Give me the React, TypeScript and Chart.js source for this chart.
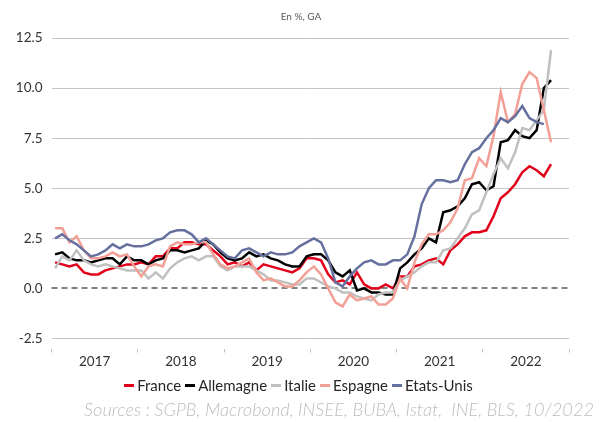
import React, { useEffect, useRef } from "react";
import { Chart, registerables } from "chart.js";

Chart.register(...registerables);

// ---- Data (year-on-year inflation, %, monthly from Jan 2017) ----
const YEARS = ["2017", "2018", "2019", "2020", "2021", "2022"];
const Y_TICK_MIN = -2.5;
const Y_TICK_MAX = 12.5;
const Y_TICK_STEP = 2.5;

const france = [
  1.3, 1.2, 1.1, 1.2, 0.8, 0.7, 0.7, 0.9, 1.0, 1.1, 1.2, 1.2,
  1.3, 1.2, 1.6, 1.6, 2.0, 2.0, 2.3, 2.3, 2.2, 2.2, 1.9, 1.6,
  1.2, 1.3, 1.1, 1.3, 0.9, 1.2, 1.1, 1.0, 0.9, 0.8, 1.0, 1.5,
  1.5, 1.4, 0.7, 0.3, 0.4, 0.2, 0.8, 0.2, 0.0, 0.0, 0.2, 0.0,
  0.6, 0.6, 1.1, 1.2, 1.4, 1.5, 1.2, 1.9, 2.2, 2.6, 2.8, 2.8,
  2.9, 3.6, 4.5, 4.8, 5.2, 5.8, 6.1, 5.9, 5.6, 6.2,
];

const allemagne = [
  1.7, 1.8, 1.5, 1.4, 1.4, 1.3, 1.4, 1.5, 1.5, 1.2, 1.6, 1.4,
  1.4, 1.2, 1.4, 1.5, 1.9, 1.9, 1.8, 1.9, 2.0, 2.4, 2.2, 1.8,
  1.5, 1.4, 1.5, 1.8, 1.6, 1.7, 1.5, 1.4, 1.2, 1.1, 1.1, 1.6,
  1.7, 1.7, 1.4, 0.8, 0.6, 0.9, -0.1, 0.0, -0.2, -0.2, -0.3, -0.3,
  1.0, 1.3, 1.7, 2.0, 2.5, 2.3, 3.8, 3.9, 4.1, 4.5, 5.2, 5.3,
  4.9, 5.1, 7.3, 7.4, 7.9, 7.6, 7.5, 7.9, 10.0, 10.4,
];

const italie = [
  1.0, 1.6, 1.4, 1.9, 1.4, 1.2, 1.1, 1.2, 1.1, 1.0, 0.9, 0.9,
  0.9, 0.5, 0.8, 0.5, 1.0, 1.3, 1.5, 1.6, 1.4, 1.6, 1.6, 1.1,
  0.9, 1.1, 1.1, 1.1, 0.9, 0.7, 0.4, 0.4, 0.3, 0.2, 0.2, 0.5,
  0.5, 0.3, 0.1, 0.0, -0.2, -0.2, -0.4, -0.5, -0.6, -0.3, -0.2, -0.2,
  0.4, 0.6, 0.8, 1.1, 1.3, 1.3, 1.9, 2.0, 2.5, 3.0, 3.7, 3.9,
  4.8, 5.7, 6.5, 6.0, 6.8, 8.0, 7.9, 8.4, 8.9, 11.9,
];

const espagne = [
  3.0, 3.0, 2.3, 2.6, 1.9, 1.5, 1.5, 1.6, 1.8, 1.6, 1.7, 1.1,
  0.6, 1.1, 1.2, 1.1, 2.1, 2.3, 2.2, 2.2, 2.3, 2.3, 1.7, 1.2,
  1.0, 1.1, 1.3, 1.5, 0.8, 0.4, 0.5, 0.3, 0.1, 0.1, 0.4, 0.8,
  1.1, 0.7, 0.0, -0.7, -0.9, -0.3, -0.6, -0.5, -0.4, -0.8, -0.8, -0.5,
  0.5, 0.0, 1.3, 2.2, 2.7, 2.7, 2.9, 3.3, 4.0, 5.4, 5.5, 6.5,
  6.1, 7.6, 9.8, 8.3, 8.7, 10.2, 10.8, 10.5, 8.9, 7.3,
];

const etatsUnis = [
  2.5, 2.7, 2.4, 2.2, 1.9, 1.6, 1.7, 1.9, 2.2, 2.0, 2.2, 2.1,
  2.1, 2.2, 2.4, 2.5, 2.8, 2.9, 2.9, 2.7, 2.3, 2.5, 2.2, 1.9,
  1.6, 1.5, 1.9, 2.0, 1.8, 1.6, 1.8, 1.7, 1.7, 1.8, 2.1, 2.3,
  2.5, 2.3, 1.5, 0.3, 0.1, 0.6, 1.0, 1.3, 1.4, 1.2, 1.2, 1.4,
  1.4, 1.7, 2.6, 4.2, 5.0, 5.4, 5.4, 5.3, 5.4, 6.2, 6.8, 7.0,
  7.5, 7.9, 8.5, 8.3, 8.6, 9.1, 8.5, 8.3, 8.2,
];

const seriesNames = ["France", "Allemagne", "Italie", "Espagne", "Etats-Unis"];
const seriesValues = [france, allemagne, italie, espagne, etatsUnis];
const seriesColors = ["#E2001A", "#000000", "#C0C0C0", "#F2A096", "#66709F"];

const SUBTITLE = "En %, GA";
const SOURCE = "Sources : SGPB, Macrobond, INSEE, BUBA, Istat,  INE, BLS, 10/2022";

const FONT = "Lato, 'Open Sans', 'Noto Sans', sans-serif";

const zeroLinePlugin = {
  id: "zeroLine",
  beforeDatasetsDraw(chart: any) {
    const { ctx, chartArea, scales } = chart;
    const y = Math.round(scales.y.getPixelForValue(0));
    ctx.save();
    ctx.strokeStyle = "#808080";
    ctx.lineWidth = 2;
    ctx.setLineDash([6, 4]);
    ctx.beginPath();
    ctx.moveTo(chartArea.left, y);
    ctx.lineTo(chartArea.right, y);
    ctx.stroke();
    ctx.restore();
  },
};

export default function App() {
  const canvasRef = useRef<HTMLCanvasElement | null>(null);

  useEffect(() => {
    document.body.style.margin = "0";
    const canvas = canvasRef.current;
    if (!canvas) return;
    const monthsPerYear = 12;
    const chart = new Chart(canvas, {
      type: "line",
      data: {
        datasets: seriesNames.map((name, s) => ({
          label: name,
          // points placed at mid-month (month index + 0.5)
          data: seriesValues[s].map((v, i) => ({ x: i + 0.5, y: v })),
          borderColor: seriesColors[s],
          backgroundColor: seriesColors[s],
          borderWidth: 2.5,
          pointRadius: 0,
          tension: 0,
          fill: false,
          // later series drawn on top (like the original)
          order: seriesNames.length - s,
        })),
      },
      options: {
        animation: false,
        responsive: false,
        devicePixelRatio: 1,
        layout: { padding: { top: 38, right: 33, bottom: 0, left: 0 } },
        plugins: {
          legend: { display: false },
          title: { display: false },
          tooltip: { enabled: false },
        },
        scales: {
          x: {
            type: "linear",
            min: 0,
            max: YEARS.length * monthsPerYear,
            afterBuildTicks: (scale: any) => {
              const ticks: any[] = [];
              for (let k = 0; k <= YEARS.length * 2; k++) ticks.push({ value: k * 6 });
              scale.ticks = ticks;
            },
            afterFit: (scale: any) => {
              scale.height = 83.5;
            },
            border: { display: false },
            grid: {
              drawOnChartArea: false,
              drawTicks: true,
              tickLength: 14,
              tickWidth: 1,
              tickBorderDash: [0, 10, 4, 100],
              color: (ctx: any) =>
                ctx.tick && ctx.tick.value % 12 === 0 ? "#BFBFBF" : "rgba(0,0,0,0)",
              tickColor: (ctx: any) =>
                ctx.tick && ctx.tick.value % 12 === 0 ? "#BFBFBF" : "rgba(0,0,0,0)",
            },
            ticks: {
              autoSkip: false,
              maxRotation: 0,
              padding: 1,
              color: "#333333",
              font: { family: FONT, size: 13.5 },
              callback: (value: any) => {
                const v = Number(value);
                return v % 12 === 6 ? YEARS[(v - 6) / 12] : "";
              },
            },
          },
          y: {
            min: Y_TICK_MIN,
            max: Y_TICK_MAX,
            afterFit: (scale: any) => {
              scale.width = 51.5;
            },
            border: { display: false },
            grid: {
              drawTicks: false,
              lineWidth: 1,
              color: (ctx: any) =>
                ctx.tick && ctx.tick.value === 0 ? "rgba(0,0,0,0)" : "#C4C4C4",
            },
            ticks: {
              stepSize: Y_TICK_STEP,
              padding: 9,
              color: "#333333",
              font: { family: FONT, size: 13.5 },
              callback: (value: any) => Number(value).toFixed(1),
            },
          },
        },
      } as any,
      plugins: [zeroLinePlugin],
    });
    return () => chart.destroy();
  }, []);

  return (
    <div
      style={{
        position: "fixed",
        left: 0,
        top: 0,
        width: 602,
        height: 422,
        background: "#ffffff",
        overflow: "hidden",
        fontFamily: FONT,
      }}
    >
      <canvas ref={canvasRef} width={602} height={422} style={{ position: "absolute", left: 0, top: 0 }} />
      <div
        style={{
          position: "absolute",
          left: 0,
          width: 602,
          top: 10,
          textAlign: "center",
          fontSize: 10,
          lineHeight: "12px",
          color: "#595959",
        }}
      >
        {SUBTITLE}
      </div>
      <div
        style={{
          position: "absolute",
          left: 0,
          width: 597,
          top: 377,
          display: "flex",
          justifyContent: "center",
          alignItems: "center",
          fontSize: 15,
          lineHeight: "17px",
          color: "#262626",
          whiteSpace: "nowrap",
        }}
      >
        {seriesNames.map((name, s) => (
          <span
            key={name}
            style={{
              display: "inline-flex",
              alignItems: "center",
              marginRight: s < seriesNames.length - 1 ? 4 : 0,
            }}
          >
            <span
              style={{
                display: "inline-block",
                width: 10,
                height: 2.5,
                background: seriesColors[s],
                marginRight: 3,
              }}
            />
            {name}
          </span>
        ))}
      </div>
      <div
        style={{
          position: "absolute",
          right: 8,
          top: 400,
          fontSize: 18.2,
          lineHeight: "18px",
          fontStyle: "italic",
          fontWeight: 300,
          color: "#BDBDBD",
          whiteSpace: "pre",
        }}
      >
        {SOURCE}
      </div>
    </div>
  );
}
